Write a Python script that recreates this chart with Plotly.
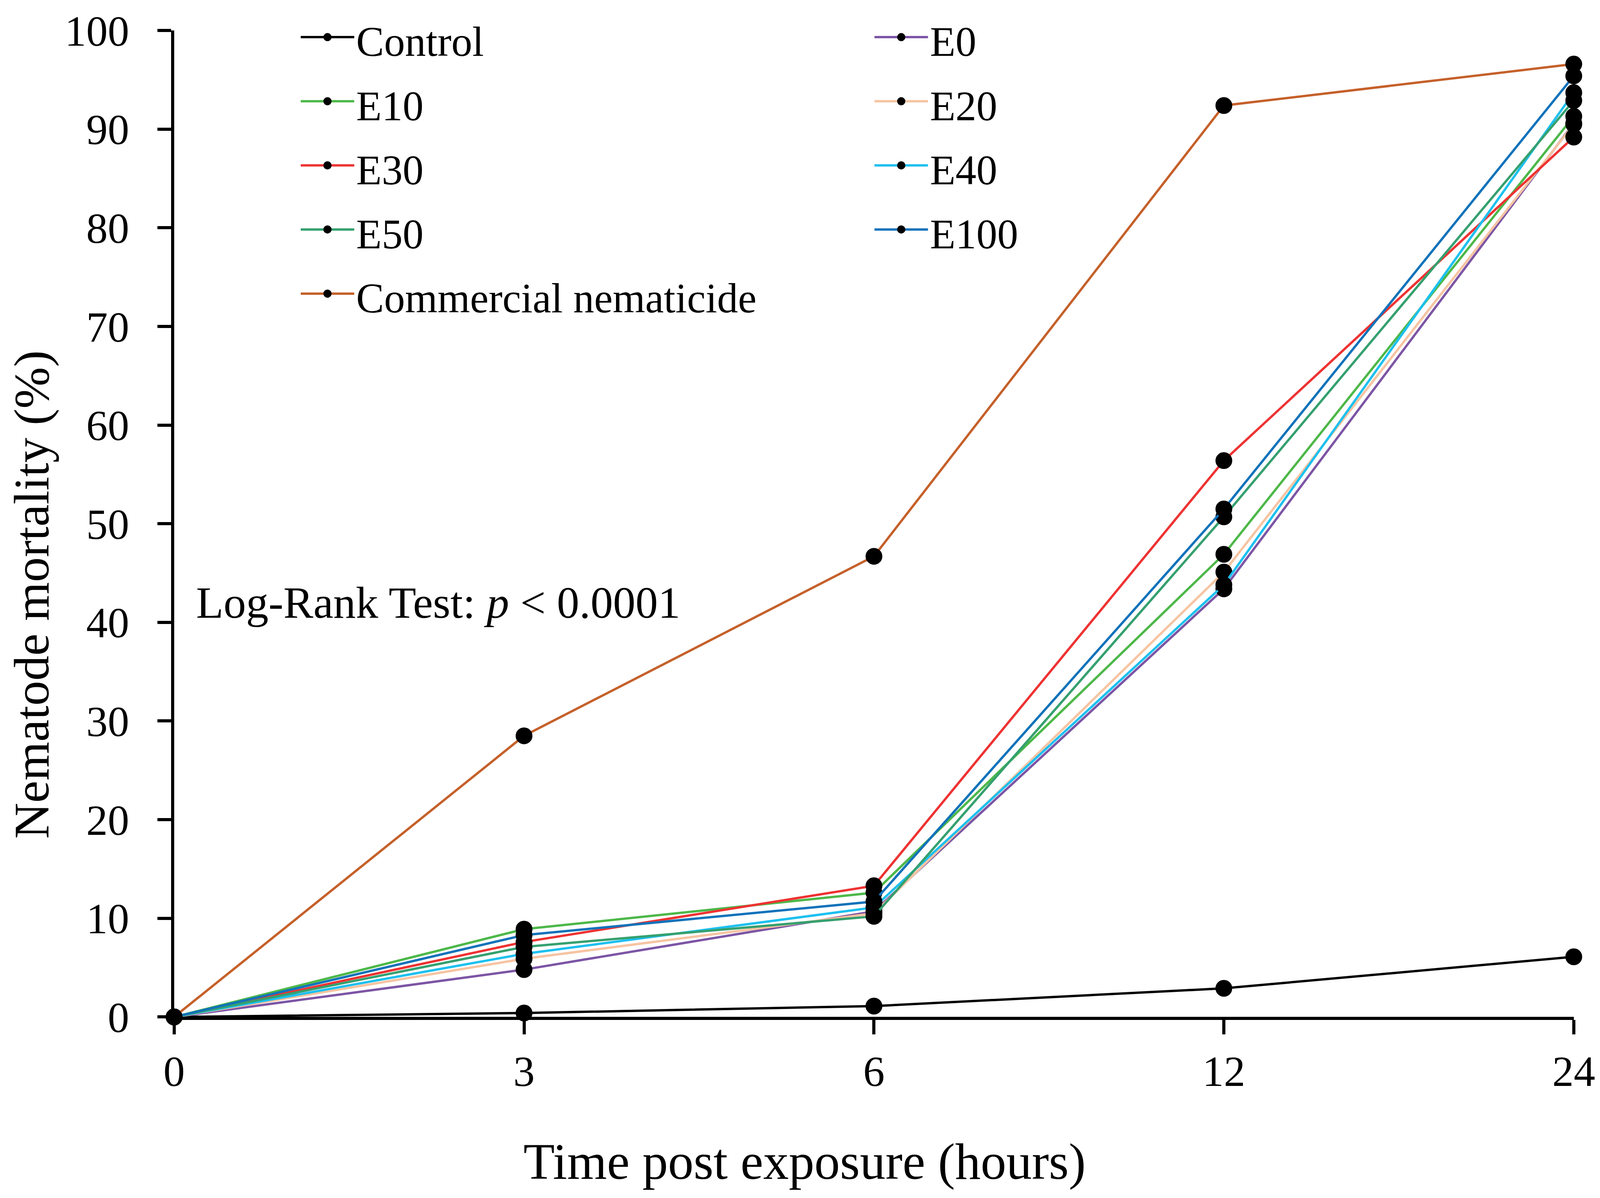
import plotly.graph_objects as go

# time points (hours) - plotted as evenly spaced categories like the original
hours = ['0', '3', '6', '12', '24']

control = [0, 0.4, 1.1, 2.9, 6.1]
e0 = [0, 4.8, 10.7, 43.4, 90.6]
e10 = [0, 8.9, 12.6, 46.9, 91.3]
e20 = [0, 5.9, 10.5, 45.1, 90.5]
e30 = [0, 7.6, 13.3, 56.4, 89.2]
e40 = [0, 6.4, 11.1, 43.8, 93.7]
e50 = [0, 7.1, 10.2, 50.7, 92.9]
e100 = [0, 8.3, 11.7, 51.5, 95.4]
commercial = [0, 28.5, 46.7, 92.4, 96.6]

names = ['Control', 'E0', 'E10', 'E20', 'E30', 'E40', 'E50', 'E100', 'Commercial nematicide']
series = [control, e0, e10, e20, e30, e40, e50, e100, commercial]
colors = ['#000000', '#7C55A5', '#4DB849', '#F6C4A2', '#EE3232', '#1CC0EF',
          '#35A06F', '#1172BA', '#C5602A']

font = 'Liberation Serif, Times New Roman, serif'

fig = go.Figure()
for name, vals, col in zip(names, series, colors):
    # legend row height follows the legend font size, text itself a bit smaller
    label = '<span style="font-size:107px">%s</span>' % name
    fig.add_trace(go.Scatter(x=hours, y=vals, name=label, mode='lines+markers',
                             line=dict(color=col, width=6),
                             marker=dict(color='black', size=38,
                                         line=dict(color='black', width=5)),
                             cliponaxis=False))

fig.add_annotation(text='Log-Rank Test: <i>p</i> &lt; 0.0001',
                   xref='paper', yref='y', x=0.1205, y=42.0,
                   xanchor='left', yanchor='middle', showarrow=False,
                   font=dict(family=font, size=115, color='black'))

# axis titles as annotations: in the original they are centred on the figure
fig.add_annotation(text='Nematode mortality (%)', textangle=-90,
                   xref='paper', yref='paper', x=0.0, y=0.5035,
                   xanchor='left', yanchor='middle', showarrow=False,
                   font=dict(family=font, size=128, color='black'))
fig.add_annotation(text='Time post exposure (hours)',
                   xref='paper', yref='paper', x=0.503, y=0.028,
                   xanchor='center', yanchor='middle', showarrow=False,
                   font=dict(family=font, size=131, color='black'))

# plot area placed with domains so it scales with the window
fig.update_xaxes(type='category', range=[0, 4], domain=[0.1073, 0.9855],
                 automargin=False, ticklabeloverflow='allow',
                 showline=True, linecolor='black', linewidth=8,
                 ticks='outside', ticklen=37, tickwidth=8, tickcolor='black',
                 tickfont=dict(family=font, size=110, color='black'),
                 showgrid=False, zeroline=False)
fig.update_yaxes(range=[0, 100], dtick=10, domain=[0.1493, 0.977],
                 automargin=False, ticklabeloverflow='allow',
                 showline=True, linecolor='black', linewidth=8,
                 ticks='outside', ticklen=35, tickwidth=8, tickcolor='black',
                 tickfont=dict(family=font, size=110, color='black'),
                 ticklabelstandoff=50,
                 showgrid=False, zeroline=False)

fig.update_layout(margin=dict(l=0, r=0, t=0, b=0),
                  plot_bgcolor='white', paper_bgcolor='white',
                  legend=dict(orientation='h', x=0.1855, xanchor='left',
                              y=1, yanchor='top',
                              entrywidth=0.36, entrywidthmode='fraction',
                              itemwidth=137,
                              font=dict(family=font, size=124, color='black'),
                              bgcolor='rgba(0,0,0,0)'))

fig.write_html('out.html')
